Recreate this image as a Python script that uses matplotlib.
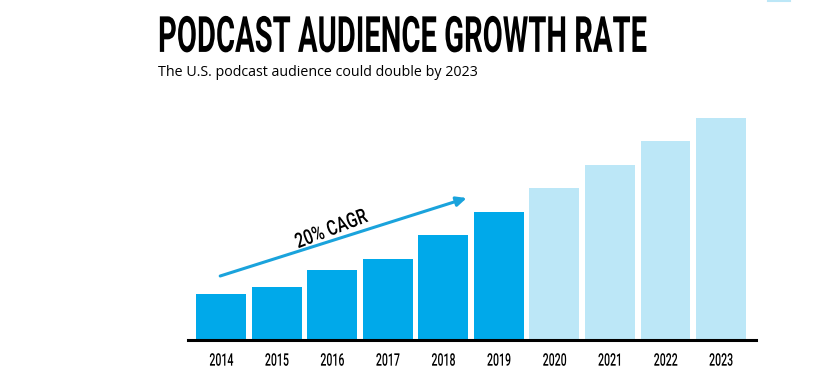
import matplotlib
matplotlib.use("Agg")
import matplotlib.pyplot as plt
from matplotlib import patheffects as pe
from matplotlib.transforms import Affine2D

years = ["2014", "2015", "2016", "2017", "2018", "2019", "2020", "2021", "2022", "2023"]
audience = [46, 53, 70, 81, 105, 128, 152, 175, 199, 222]
is_projection = [False] * 6 + [True] * 4
title = "PODCAST AUDIENCE GROWTH RATE"
subtitle = "The U.S. podcast audience could double by 2023"
cagr_label = "20% CAGR"

DARK = "#00A9EA"
LIGHT = "#BCE7F7"
ARROW = "#1AA3DC"
COND = ["Roboto", "DejaVu Sans"]


class Tall(pe.AbstractPathEffect):
    """Stretch glyph outlines vertically (about their centre) in the text's own frame."""

    def __init__(self, sy):
        super().__init__()
        self.sy = sy

    def draw_path(self, renderer, gc, tpath, affine, rgbFace=None):
        ext = tpath.get_extents()
        cy = (ext.y0 + ext.y1) / 2
        t = Affine2D().translate(0, -cy).scale(1, self.sy).translate(0, cy) + affine
        renderer.draw_path(gc, tpath, t, rgbFace)


W, H = 822, 388
fig = plt.figure(figsize=(W / 100, H / 100), dpi=100)
ax = fig.add_axes([188 / W, 1 - 340 / H, (756 - 188) / W, 240 / H])

x = list(range(len(years)))
colors = [LIGHT if p else DARK for p in is_projection]
ax.bar(x, audience, width=0.9, color=colors, zorder=2)
ax.set_xlim(-0.6, 9.63)
ax.set_ylim(0, 240)
for s in ["top", "right", "left"]:
    ax.spines[s].set_visible(False)
ax.spines["bottom"].set_linewidth(2.2)
ax.spines["bottom"].set_color("black")
ax.set_yticks([])
ax.set_xticks(x)
ax.set_xticklabels(years, family=COND, fontweight="medium", fontsize=12.5)
ax.tick_params(axis="x", length=0, pad=11)

ax.annotate("", xy=(4.42, 142), xytext=(-0.02, 64),
            arrowprops=dict(arrowstyle="-|>,head_length=0.6,head_width=0.28",
                            color=ARROW, lw=2.2, shrinkA=0, shrinkB=0))
cagr = ax.text(1.98, 111, cagr_label, rotation=0, ha="center", va="center",
               family=COND, fontweight="medium", fontsize=15)

t = fig.text(158 / W, 1 - 36.5 / H, title, ha="left", va="center",
             family=COND, fontweight="bold", fontsize=36)
st = fig.text(158 / W, 1 - 73 / H, subtitle, ha="left", va="center",
              family=["Open Sans", "DejaVu Sans"], fontsize=10)

fig.canvas.draw()
r = fig.canvas.get_renderer()


def condense(txt, target_w):
    w = txt.get_window_extent(r).width
    k = target_w / w
    txt.set_fontsize(txt.get_fontsize() * k)
    txt.set_path_effects([Tall(1 / k)])


w = st.get_window_extent(r).width
st.set_fontsize(st.get_fontsize() * 322 / w)
condense(t, 489)
condense(cagr, 76)
cagr.set_rotation(21)
for lab in ax.get_xticklabels():
    condense(lab, 24)

fig.add_artist(plt.Line2D([768 / W, 790 / W], [1 - 0.5 / H, 1 - 0.5 / H],
                          color=LIGHT, lw=1.5))

fig.savefig("out.png", dpi=100, facecolor="white")
